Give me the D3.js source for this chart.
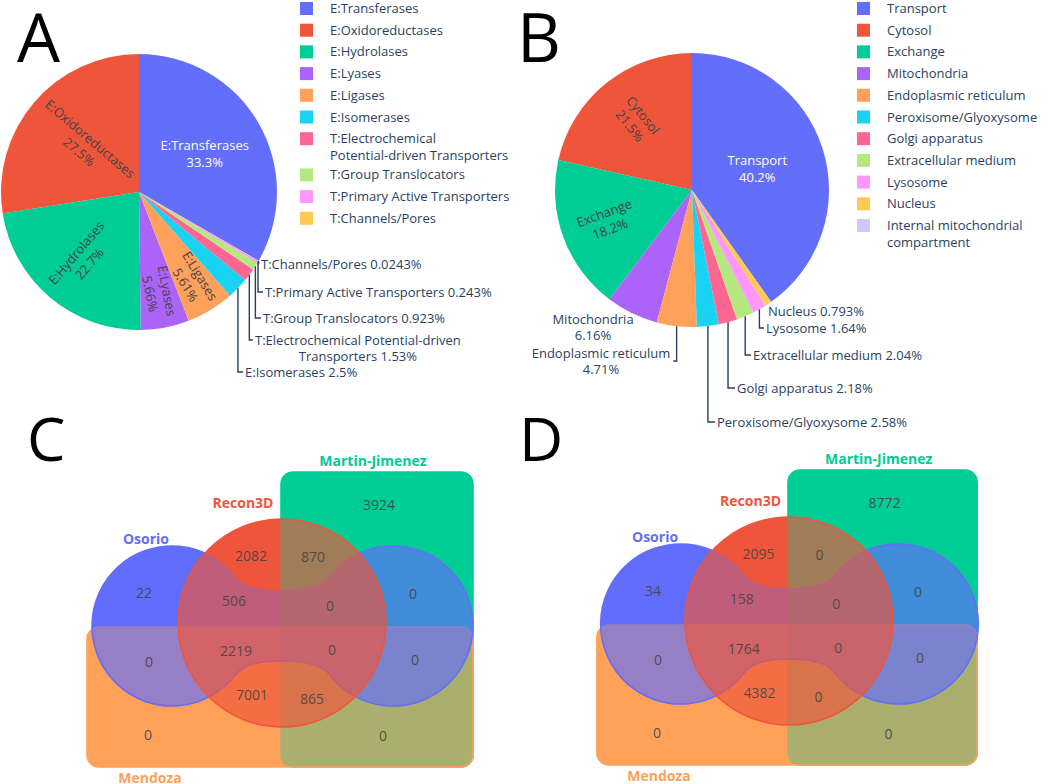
<!DOCTYPE html>
<html>
<head>
<meta charset="utf-8">
<script src="https://cdn.jsdelivr.net/npm/d3@7"></script>
<style>
  body { margin: 0; background: #fff; }
  svg text { font-family: "Open Sans", "Noto Sans", sans-serif; }
</style>
</head>
<body>
<script>
// Panels A/B: pies of reaction classes and compartments, C/D: four-set Venn diagrams

// ---- data ----
var enzymeNames = ["E:Transferases", "E:Oxidoreductases", "E:Hydrolases", "E:Lyases", "E:Ligases",
  "E:Isomerases", "T:Electrochemical Potential-driven Transporters", "T:Group Translocators",
  "T:Primary Active Transporters", "T:Channels/Pores"];
var enzymePct = [33.3, 27.5, 22.7, 5.66, 5.61, 2.5, 1.53, 0.923, 0.243, 0.0243];

var compartmentNames = ["Transport", "Cytosol", "Exchange", "Mitochondria", "Endoplasmic reticulum",
  "Peroxisome/Glyoxysome", "Golgi apparatus", "Extracellular medium", "Lysosome", "Nucleus",
  "Internal mitochondrial compartment"];
var compartmentPct = [40.2, 21.5, 18.2, 6.16, 4.71, 2.58, 2.18, 2.04, 1.64, 0.793, 0.003];

var sliceColors = ["#636efa", "#ef553b", "#00cc96", "#ab63fa", "#ffa15a", "#19d3f3",
  "#ff6692", "#b6e880", "#ff97ff", "#fecb52", "#c9cbfa"];

var vennSetNames = ["Martin-Jimenez", "Mendoza", "Osorio", "Recon3D"];
var vennSetColors = ["#00cc96", "#ffa15a", "#636efa", "#ef553b"];
var vennRegions = ["M", "R", "R&M", "O", "O&R", "O&R&M", "O&M", "O&R&Me",
  "O&R&M&Me", "O&Me", "O&M&Me", "R&Me", "R&M&Me", "Me", "M&Me"];
var vennCountsC = [3924, 2082, 870, 22, 506, 0, 0, 2219, 0, 0, 0, 7001, 865, 0, 0];
var vennCountsD = [8772, 2095, 0, 34, 158, 0, 0, 1764, 0, 0, 0, 4382, 0, 0, 0];

// ---- layout ----
var W = 1052, H = 784;
var textColor = "#2a3f5f";
var svg = d3.select("body").append("svg").attr("width", W).attr("height", H);

var panelLetters = [
  {t: "A", x: 17, y: 62, size: 68}, {t: "B", x: 517, y: 62, size: 68},
  {t: "C", x: 27, y: 461, size: 61}, {t: "D", x: 519, y: 461, size: 61}
];
svg.selectAll("text.letter").data(panelLetters).enter().append("text")
  .attr("class", "letter")
  .attr("x", function(d){ return d.x; })
  .attr("y", function(d){ return d.y; })
  .style("font-size", function(d){ return d.size + "px"; })
  .style("fill", "#000")
  .text(function(d){ return d.t; });

function splitAt(str, brk) {
  if (!brk) return [str];
  var w = str.split(" ");
  return [w.slice(0, brk).join(" "), w.slice(brk).join(" ")];
}

function addLines(g, lines, x, y, anchor, lh) {
  var t = g.append("text").attr("text-anchor", anchor);
  lines.forEach(function(s, j) {
    t.append("tspan").attr("x", x).attr("y", y + j * lh).attr("dy", "0.35em").text(s);
  });
  return t;
}

function drawPie(cfg) {
  var sum = d3.sum(cfg.values);
  var a0 = cfg.values[0] / sum * 2 * Math.PI;
  // first slice ends at 12 o'clock, the rest run counterclockwise
  var arcs = d3.pie().sort(null).startAngle(a0).endAngle(a0 - 2 * Math.PI)(cfg.values);
  var arc = d3.arc().innerRadius(0).outerRadius(cfg.r);
  var g = svg.append("g").attr("transform", "translate(" + cfg.cx + "," + cfg.cy + ")");

  g.selectAll("path.slice").data(arcs).enter().append("path")
    .attr("class", "slice")
    .attr("d", arc)
    .attr("fill", function(d, i){ return sliceColors[i]; });

  var mid = function(d){ return (d.startAngle + d.endAngle) / 2; };

  // labels inside the slices
  arcs.forEach(function(d, i) {
    var lay = cfg.inside[i];
    if (!lay) return;
    var a = mid(d), rho = lay.rho * cfg.r;
    var x = rho * Math.sin(a), y = -rho * Math.cos(a);
    var deg = 0;
    if (lay.rot !== false) {
      deg = a * 180 / Math.PI - 90;
      while (deg > 90) deg -= 180;
      while (deg <= -90) deg += 180;
    }
    var lg = g.append("g").attr("transform", "translate(" + x + "," + y + ") rotate(" + deg + ")");
    addLines(lg, [cfg.names[i], cfg.values[i] + "%"], 0, -8.5, "middle", 17)
      .style("font-size", "13px")
      .style("fill", i === 0 ? "#fff" : "#444");
  });

  // labels outside with leader lines
  arcs.forEach(function(d, i) {
    var lay = cfg.outside[i];
    if (!lay) return;
    var a = mid(d);
    var px = cfg.r * Math.sin(a), py = -cfg.r * Math.cos(a);
    var anchor = lay.anchor || "start";
    var lines = splitAt(cfg.names[i] + " " + cfg.values[i] + "%", lay.brk);
    var t = addLines(g, lines, lay.dx, lay.dy, anchor, 16)
      .style("font-size", "13px").style("fill", textColor);
    var widths = [];
    t.selectAll("tspan").each(function(){ widths.push(this.getComputedTextLength()); });
    var maxW = d3.max(widths);
    if (anchor === "start" && lines.length > 1) {
      t.selectAll("tspan").attr("x", function(s, j){ return lay.dx + (maxW - widths[j]) / 2; });
    }
    if (lay.leader === false) return;
    var ly = lay.leaderDy !== undefined ? lay.leaderDy : lay.dy;
    var ex = anchor === "start" ? lay.dx - 2 : lay.dx + maxW / 2 + 3;
    var p = d3.path();
    p.moveTo(px, py);
    p.lineTo(px, ly);
    p.lineTo(ex, ly);
    g.append("path").attr("d", p.toString())
      .attr("fill", "none").attr("stroke", textColor).attr("stroke-width", 1.4);
  });

  // legend
  var lgd = svg.append("g");
  var y = cfg.legendY;
  cfg.names.forEach(function(n, i) {
    var lines = splitAt(n, cfg.legendBreaks[i]);
    lgd.append("rect").attr("x", cfg.legendX).attr("y", y - 6.5)
      .attr("width", 13).attr("height", 13).attr("fill", sliceColors[i]);
    addLines(lgd, lines, cfg.legendX + 30, y, "start", 17)
      .style("font-size", "13px").style("fill", textColor);
    y += 21.7 + (lines.length - 1) * 14.5;
  });
}

drawPie({
  names: enzymeNames, values: enzymePct, cx: 139, cy: 192, r: 138,
  legendX: 300, legendY: 8.5, legendBreaks: {6: 1},
  inside: {0: {rho: 0.55, rot: false}, 1: {rho: 0.52}, 2: {rho: 0.63}, 3: {rho: 0.74}, 4: {rho: 0.75}},
  outside: {
    5: {dx: 106, dy: 180}, 6: {dx: 116, dy: 148, brk: 2}, 7: {dx: 124, dy: 126},
    8: {dx: 126, dy: 100}, 9: {dx: 122, dy: 72}
  }
});

drawPie({
  names: compartmentNames, values: compartmentPct, cx: 692, cy: 190, r: 137,
  legendX: 857, legendY: 8.5, legendBreaks: {10: 2},
  inside: {0: {rho: 0.5, rot: false}, 1: {rho: 0.65}, 2: {rho: 0.66}},
  outside: {
    3: {dx: -99, dy: 129, anchor: "middle", brk: 1, leader: false},
    4: {dx: -91, dy: 163, anchor: "middle", brk: 2, leaderDy: 171},
    5: {dx: 25, dy: 232}, 6: {dx: 45, dy: 198}, 7: {dx: 61, dy: 165},
    8: {dx: 74, dy: 138}, 9: {dx: 76, dy: 121, leader: false}
  }
});

// ---- Venn diagrams ----
var vennGeo = {
  martin: {x0: -1, x1: 191, y0: -151, y1: 144},
  mendoza: {x0: -195, x1: 191, y0: 4, y1: 144},
  corner: 12,
  reconR: 104,
  lobeL: -110, lobeR: 111, lobeY: 3, lobeRad: 80, neckAngle: 37, neck: 35, handle: 12, flat: 20
};
var regionAnchors = [[97, -118], [-31, -67], [31, -66], [-138, -30], [-48, -22], [48, -17], [131, -29],
  [-46, 28], [50, 27], [-133, 39], [133, 37], [-30, 72], [30, 76], [-134, 112], [101, 113]];
var setLabelAnchors = [[91, -162], [-132, 155], [-136, -84], [-39, -120]];

function roundRectPath(vx, vy, b, rr) {
  var p = d3.path();
  var x0 = vx(b.x0), x1 = vx(b.x1), y0 = vy(b.y0), y1 = vy(b.y1);
  p.moveTo(x0 + rr, y0);
  p.arcTo(x1, y0, x1, y1, rr);
  p.arcTo(x1, y1, x0, y1, rr);
  p.arcTo(x0, y1, x0, y0, rr);
  p.arcTo(x0, y0, x1, y0, rr);
  p.closePath();
  return p.toString();
}

function circlePath(vx, vy, r) {
  var p = d3.path();
  p.arc(vx(0), vy(0), r, 0, 2 * Math.PI);
  p.closePath();
  return p.toString();
}

function peanutPath(vx, vy, geo) {
  var L = [vx(geo.lobeL), vy(geo.lobeY)], R = [vx(geo.lobeR), vy(geo.lobeY)];
  var r = geo.lobeRad, t = geo.neckAngle * Math.PI / 180, h = geo.handle, f = geo.flat;
  var c = Math.cos(t), s = Math.sin(t);
  var nt = [vx(0), vy(geo.lobeY - geo.neck)], nb = [vx(0), vy(geo.lobeY + geo.neck)];
  var A1 = [L[0] + r * c, L[1] - r * s], B1 = [R[0] - r * c, R[1] - r * s];
  var B2 = [R[0] - r * c, R[1] + r * s], A2 = [L[0] + r * c, L[1] + r * s];
  var p = d3.path();
  p.moveTo(A1[0], A1[1]);
  p.bezierCurveTo(A1[0] + h * s, A1[1] + h * c, nt[0] - f, nt[1], nt[0], nt[1]);
  p.bezierCurveTo(nt[0] + f, nt[1], B1[0] - h * s, B1[1] + h * c, B1[0], B1[1]);
  p.arc(R[0], R[1], r, Math.PI + t, Math.PI - t);
  p.bezierCurveTo(B2[0] - h * s, B2[1] - h * c, nb[0] + f, nb[1], nb[0], nb[1]);
  p.bezierCurveTo(nb[0] - f, nb[1], A2[0] + h * s, A2[1] - h * c, A2[0], A2[1]);
  p.arc(L[0], L[1], r, t, -t);
  p.closePath();
  return p.toString();
}

function drawVenn(cx, cy, kx, counts) {
  var vx = d3.scaleLinear().domain([0, 100]).range([cx, cx + 100 * kx]);
  var vy = d3.scaleLinear().domain([0, 100]).range([cy, cy + 100]);
  var shapes = [
    roundRectPath(vx, vy, vennGeo.martin, vennGeo.corner),
    roundRectPath(vx, vy, vennGeo.mendoza, vennGeo.corner),
    peanutPath(vx, vy, vennGeo),
    circlePath(vx, vy, vennGeo.reconR)
  ];
  var sets = vennSetNames.map(function(n, i){ return {name: n, color: vennSetColors[i], d: shapes[i]}; });
  var g = svg.append("g");

  // solid base so single-set areas keep full colour, translucent layer on top for overlaps
  g.selectAll("path.base").data(sets.slice().reverse()).enter().append("path")
    .attr("class", "base").attr("d", function(d){ return d.d; })
    .attr("fill", function(d){ return d.color; });
  g.selectAll("path.over").data(sets).enter().append("path")
    .attr("class", "over").attr("d", function(d){ return d.d; })
    .attr("fill", function(d){ return d.color; })
    .attr("fill-opacity", 0.67)
    .attr("stroke", function(d){ return d.color; })
    .attr("stroke-width", 1.6);

  g.selectAll("text.count").data(counts).enter().append("text")
    .attr("class", "count")
    .attr("x", function(d, i){ return vx(regionAnchors[i][0]); })
    .attr("y", function(d, i){ return vy(regionAnchors[i][1]); })
    .attr("dy", "0.35em")
    .attr("text-anchor", "middle")
    .style("font-size", "14px")
    .style("fill", "#444")
    .style("fill-opacity", 0.9)
    .text(function(d){ return d; });

  g.selectAll("text.setname").data(sets).enter().append("text")
    .attr("class", "setname")
    .attr("x", function(d, i){ return vx(setLabelAnchors[i][0]); })
    .attr("y", function(d, i){ return vy(setLabelAnchors[i][1]); })
    .attr("dy", "0.35em")
    .attr("text-anchor", "middle")
    .style("font-size", "14px")
    .style("font-weight", "bold")
    .style("fill", function(d){ return d.color; })
    .text(function(d){ return d.name; });
}

drawVenn(282, 623, 1, vennCountsC);
drawVenn(789, 621, 0.985, vennCountsD);
</script>
</body>
</html>
